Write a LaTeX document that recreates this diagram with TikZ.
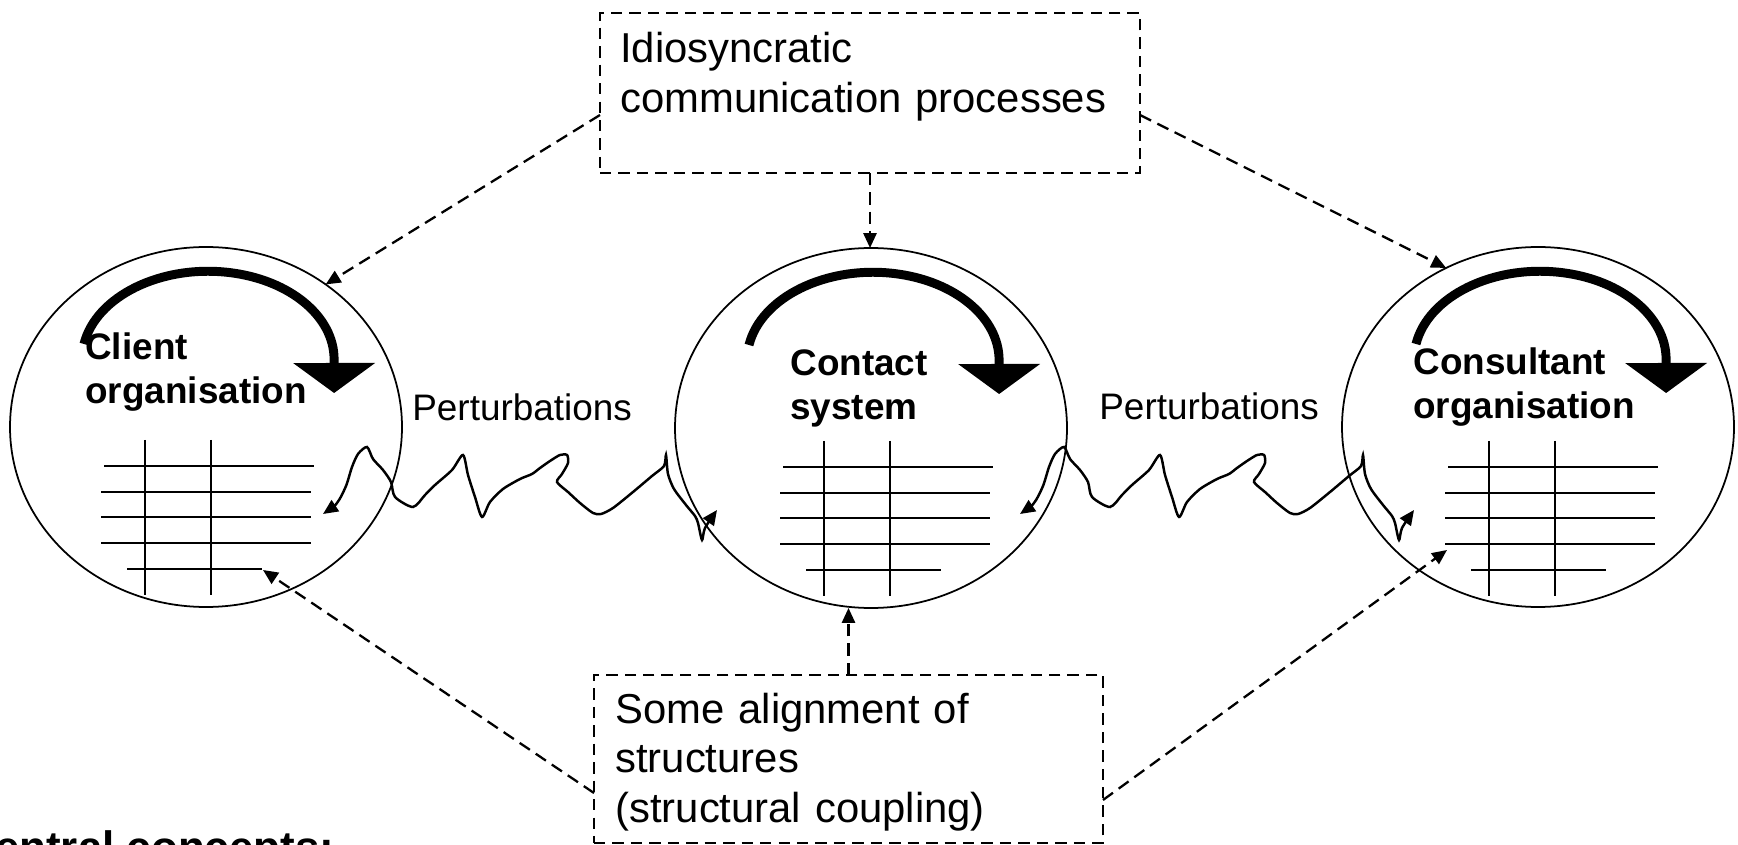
\documentclass[tikz,border=0pt]{standalone}
\usepackage{fontspec}
\setmainfont{Liberation Sans}
\usetikzlibrary{shapes.geometric,arrows.meta}

\tikzset{
  organisation/.style={draw, ellipse, line width=1pt, minimum width=7.84cm, minimum height=7.2cm, inner sep=0pt, outer sep=0pt},
  dashbox/.style={draw, dash pattern=on 6.5pt off 4pt, line width=1.1pt, inner sep=0pt, outer sep=0pt},
  boxtext/.style={anchor=base west, inner sep=0pt, text width=10cm, align=left, font=\fontsize{23.8}{28.35}\selectfont},
  systemname/.style={anchor=base west, inner sep=0pt, text width=5cm, align=left, font=\bfseries\fontsize{21}{24.9}\selectfont},
  perturbtext/.style={anchor=base west, inner sep=0pt, font=\fontsize{21}{25}\selectfont},
  influence/.style={line width=1.3pt, dash pattern=on 7pt off 4pt, -{Triangle[length=8.5pt,width=7.5pt]}},
  wiggle/.style={line width=1.4pt, {Triangle[length=8.5pt,width=7.5pt]}-{Triangle[length=8.5pt,width=7.5pt]}},
  pics/structure/.style={code={
    \draw[line width=1.3pt] (0,0.52) -- (0,-2.58);
    \draw[line width=1.3pt] (1.32,0.52) -- (1.32,-2.58);
    \draw[line width=1.3pt] (-0.82,0) -- (3.38,0);
    \draw[line width=1.3pt] (-0.88,-0.52) -- (3.32,-0.52);
    \draw[line width=1.3pt] (-0.88,-1.02) -- (3.32,-1.02);
    \draw[line width=1.3pt] (-0.88,-1.54) -- (3.32,-1.54);
    \draw[line width=1.3pt] (-0.36,-2.06) -- (2.34,-2.06);
  }},
  pics/selfloop/.style={code={
    \draw[line width=5.1pt, -{Triangle[length=0.6cm,width=1.64cm,line width=0pt]}]
      (-2.44,1.66) arc[start angle=170, end angle=0, x radius=2.52, y radius=1.76] -- (2.562,0.68);
  }},
  pics/perturbation/.style={code={
    \draw[wiggle] plot[smooth, tension=0.45] coordinates {
      (6.46,-10.28) (6.74,-10.06) (6.92,-9.72) (7.04,-9.34) (7.16,-9.08) (7.34,-8.94)
      (7.46,-9.18) (7.66,-9.40) (7.82,-9.64) (7.90,-9.94) (8.26,-10.14) (8.50,-9.90)
      (8.70,-9.70) (9.04,-9.40) (9.26,-9.10) (9.36,-9.50) (9.50,-9.94) (9.64,-10.34)
      (9.80,-10.04) (10.06,-9.78) (10.40,-9.58) (10.64,-9.48) (10.80,-9.36) (11.00,-9.22)
      (11.20,-9.10) (11.34,-9.10) (11.36,-9.26) (11.24,-9.48) (11.14,-9.64) (11.36,-9.84)
      (11.60,-10.06) (11.86,-10.26) (12.02,-10.28) (12.26,-10.16) (12.66,-9.84) (13.04,-9.52)
      (13.28,-9.32) (13.32,-9.10) (13.36,-9.48) (13.48,-9.78) (13.72,-10.10) (13.90,-10.32)
      (13.96,-10.46) (14.04,-10.80) (14.10,-10.56) (14.34,-10.20)};
  }}
}

\begin{document}
\begin{tikzpicture}
    \useasboundingbox (0,0) rectangle (34.76,-16.90);
    \clip (0,0) rectangle (34.76,-16.90);

    % the three systems
    \node[organisation] (client) at (4.12,-8.54) {};
    \node[organisation] (contact) at (17.42,-8.56) {};
    \node[organisation] (consultant) at (30.76,-8.54) {};

    \pic at (client) {selfloop};
    \pic at (contact) {selfloop};
    \pic at (consultant) {selfloop};

    \node[systemname] (clientname) at (1.70,-7.20) {Client\\organisation};
    \node[systemname] (contactname) at (15.80,-7.51) {Contact\\system};
    \node[systemname] (consultantname) at (28.26,-7.49) {Consultant\\organisation};

    \pic at (2.90,-9.32) {structure};
    \pic at (16.48,-9.34) {structure};
    \pic at (29.78,-9.34) {structure};

    % perturbations between them
    \pic at (0,0) {perturbation};
    \pic at (13.94,0) {perturbation};
    \node[perturbtext] (pertleft) at (8.24,-8.41) {Perturbations};
    \node[perturbtext] (pertright) at (21.98,-8.39) {Perturbations};

    % communication processes
    \node[dashbox, minimum width=10.8cm, minimum height=3.2cm] (commbox) at (17.40,-1.86) {};
    \node[boxtext] (commtext) at (12.40,-1.26) {Idiosyncratic\\communication processes};
    \draw[influence] ([yshift=-0.44cm]commbox.west) -- (client.50);
    \draw[influence] (commbox.south) -- (commbox.south |- contact.north);
    \draw[influence] ([yshift=-0.44cm]commbox.east) -- (consultant.120);

    % structural coupling
    \node[dashbox, minimum width=10.18cm, minimum height=3.36cm] (alignbox) at (16.97,-15.18) {};
    \node[boxtext] (aligntext) at (12.30,-14.46) {Some alignment of\\structures\\(structural coupling)};
    \coordinate (clientend) at (5.26,-11.40);
    \coordinate (consultantend) at (28.94,-11.00);
    \draw[influence] ([yshift=-0.68cm]alignbox.west) -- (clientend);
    \draw[influence] (alignbox.north) -- (alignbox.north |- contact.south);
    \draw[influence] ([yshift=-0.82cm]alignbox.east) -- (consultantend);

    \node[anchor=base west, inner sep=0pt, font=\bfseries\fontsize{25}{30}\selectfont] (central) at (-0.74,-17.24) {Central concepts:};
  \end{tikzpicture}
\end{document}
